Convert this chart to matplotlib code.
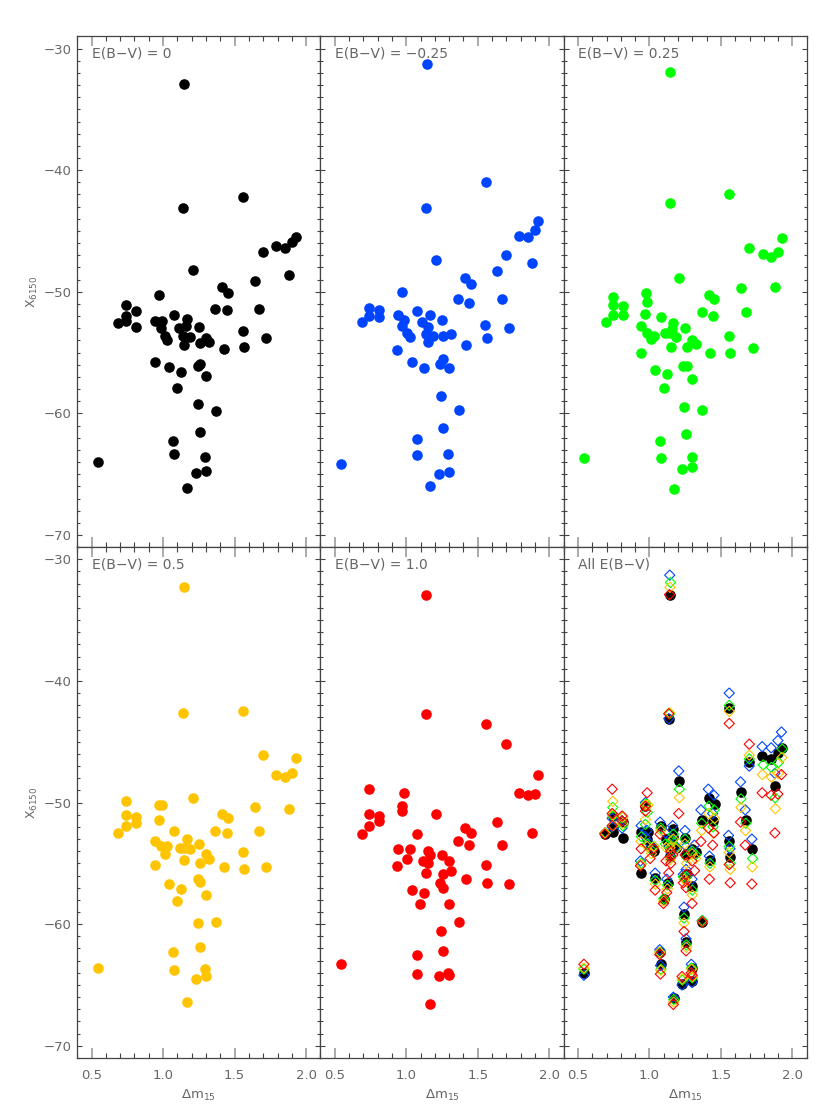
import matplotlib
matplotlib.use("Agg")
import matplotlib.pyplot as plt
from matplotlib.ticker import MultipleLocator

# E(B-V) = 0
dm15_0 = [1.146, 1.14, 1.558, 1.209, 1.926, 1.898, 1.853, 1.79, 1.698, 1.881,
          1.642, 1.414, 1.456, 0.972, 0.744, 0.812, 0.744, 0.744, 0.688, 0.812,
          1.365, 1.447, 1.672, 1.079, 0.94, 0.99, 0.984, 1.167, 1.163, 1.114,
          1.249, 1.558, 1.014, 1.03, 1.137, 1.186, 1.144, 1.258, 1.298, 1.323,
          1.423, 1.565, 1.719, 0.942, 1.042, 1.128, 1.242, 1.26, 1.3, 1.1,
          1.242, 1.37, 1.258, 1.072, 1.079, 1.295, 1.23, 1.298, 1.17, 0.542]
x6150_0 = [-32.9, -43.1, -42.2, -48.2, -45.5, -45.9, -46.4, -46.2, -46.7, -48.6,
           -49.1, -49.6, -50.1, -50.3, -51.1, -51.6, -52.0, -52.4, -52.6, -52.9,
           -51.4, -51.5, -51.4, -51.9, -52.4, -52.4, -53.0, -52.2, -52.8, -53.0,
           -52.9, -53.2, -53.6, -54.0, -53.6, -53.7, -54.4, -54.2, -53.8, -54.1,
           -54.7, -54.5, -53.8, -55.8, -56.2, -56.6, -56.1, -55.9, -56.9, -57.9,
           -59.2, -59.8, -61.5, -62.3, -63.3, -63.6, -64.9, -64.7, -66.1, -64.0]

# E(B-V) = -0.25
dm15_m025 = [1.142, 1.558, 1.135, 1.205, 1.923, 1.898, 1.851, 1.788, 1.698, 1.877,
             1.637, 1.412, 1.451, 0.972, 1.36, 1.442, 1.67, 0.74, 0.809, 0.74,
             0.809, 0.688, 0.942, 0.984, 0.97, 1.074, 1.163, 1.112, 1.149, 1.249,
             1.553, 1.716, 1.005, 1.028, 1.135, 1.186, 1.149, 1.256, 1.314, 1.419,
             1.563, 0.937, 1.04, 1.121, 1.256, 1.237, 1.298, 1.242, 1.37, 1.256,
             1.072, 1.077, 1.293, 1.298, 1.228, 1.167, 0.542]
x6150_m025 = [-31.3, -41.0, -43.1, -47.4, -44.2, -44.9, -45.5, -45.4, -47.0, -47.6,
              -48.3, -48.9, -49.4, -50.0, -50.6, -50.9, -50.6, -51.3, -51.5, -52.0,
              -52.1, -52.5, -51.9, -52.3, -52.8, -51.6, -51.9, -52.5, -52.9, -52.3,
              -52.7, -53.0, -53.4, -53.7, -53.5, -53.6, -54.1, -53.6, -53.5, -54.4,
              -53.8, -54.8, -55.8, -56.3, -55.5, -55.9, -56.3, -58.6, -59.7, -61.2,
              -62.1, -63.4, -63.3, -64.8, -65.0, -66.0, -64.2]

# E(B-V) = 0.25
dm15_025 = [1.147, 1.558, 1.142, 1.209, 1.928, 1.902, 1.853, 1.795, 1.698, 1.879,
            1.64, 1.416, 1.453, 0.974, 0.986, 0.744, 0.744, 0.814, 0.744, 0.814,
            0.693, 0.972, 1.079, 1.365, 1.444, 1.674, 0.944, 0.984, 1.033, 1.014,
            1.167, 1.156, 1.112, 1.186, 1.14, 1.249, 1.558, 1.149, 1.26, 1.3,
            1.323, 1.423, 1.565, 1.721, 0.942, 1.04, 1.126, 1.1, 1.237, 1.26,
            1.3, 1.242, 1.37, 1.258, 1.074, 1.081, 1.295, 1.3, 1.23, 1.17, 0.542]
x6150_025 = [-31.9, -42.0, -42.7, -48.9, -45.6, -46.7, -47.1, -46.9, -46.4, -49.6,
             -49.7, -50.3, -50.6, -50.1, -50.8, -50.4, -51.1, -51.2, -51.9, -51.9,
             -52.5, -51.8, -52.1, -51.7, -52.0, -51.7, -52.8, -53.4, -53.6, -53.9,
             -52.6, -53.1, -53.4, -53.7, -53.4, -53.0, -53.6, -54.5, -54.5, -54.0,
             -54.3, -55.0, -55.0, -54.6, -55.0, -56.4, -56.8, -57.9, -56.1, -56.1,
             -57.2, -59.5, -59.7, -61.7, -62.3, -63.7, -63.6, -64.4, -64.6, -66.2, -63.7]

# E(B-V) = 0.5
dm15_05 = [1.144, 1.14, 1.558, 1.209, 1.698, 1.926, 1.902, 1.853, 1.79, 1.881,
           1.64, 1.414, 1.456, 0.744, 0.744, 0.812, 0.744, 0.814, 0.688, 0.972,
           0.99, 0.972, 1.079, 1.365, 1.447, 1.672, 0.942, 0.984, 1.03, 1.014,
           1.167, 1.116, 1.186, 1.144, 1.144, 1.249, 1.298, 1.323, 1.258, 1.558,
           1.423, 1.565, 1.719, 0.942, 1.042, 1.126, 1.242, 1.258, 1.3, 1.1,
           1.242, 1.37, 1.258, 1.072, 1.079, 1.295, 1.3, 1.23, 1.17, 0.542]
x6150_05 = [-32.3, -42.6, -42.5, -49.6, -46.1, -46.3, -47.6, -47.9, -47.7, -50.5,
            -50.4, -50.9, -51.3, -49.9, -51.0, -51.2, -51.9, -51.7, -52.5, -50.2,
            -50.2, -51.4, -52.3, -52.3, -52.5, -52.3, -53.2, -53.6, -53.6, -54.2,
            -53.0, -53.7, -53.8, -53.7, -54.7, -53.4, -54.2, -54.6, -55.0, -54.1,
            -55.3, -55.5, -55.3, -55.1, -56.7, -57.1, -56.3, -56.5, -57.6, -58.1,
            -59.9, -59.8, -61.9, -62.3, -63.8, -63.7, -64.3, -64.5, -66.4, -63.6]

# E(B-V) = 1.0
dm15_10 = [1.14, 1.135, 1.558, 1.698, 1.923, 1.898, 1.851, 1.788, 1.877, 1.637,
           1.412, 1.451, 0.74, 0.74, 0.809, 0.809, 0.74, 0.688, 0.984, 0.972,
           0.972, 1.205, 1.074, 1.36, 1.442, 1.67, 0.942, 1.028, 1.005, 1.149,
           1.163, 1.116, 1.149, 1.135, 1.249, 1.298, 1.316, 1.256, 1.419, 1.558,
           1.565, 1.716, 0.937, 1.04, 1.121, 1.098, 1.237, 1.256, 1.298, 1.37,
           1.242, 1.256, 1.072, 1.077, 1.293, 1.298, 1.228, 1.167, 0.542]
x6150_10 = [-32.9, -42.7, -43.5, -45.2, -47.7, -49.3, -49.4, -49.2, -52.5, -51.6,
            -52.1, -52.5, -48.9, -50.9, -51.1, -51.5, -51.9, -52.6, -49.2, -50.3,
            -50.7, -50.9, -52.6, -53.2, -53.5, -53.5, -53.8, -53.8, -54.6, -54.0,
            -54.3, -54.8, -55.0, -55.8, -54.3, -54.8, -55.6, -55.9, -56.3, -55.1,
            -56.6, -56.7, -55.2, -57.2, -57.4, -58.3, -56.6, -57.0, -58.3, -59.8,
            -60.6, -62.2, -62.5, -64.1, -64.0, -64.2, -64.3, -66.6, -63.3]

labels = ["E(B\u2212V) = 0", "E(B\u2212V) = \u22120.25", "E(B\u2212V) = 0.25",
          "E(B\u2212V) = 0.5", "E(B\u2212V) = 1.0", "All E(B\u2212V)"]
colors = ["black", "#0044ff", "#00ff00", "#ffc400", "#ff0000"]
xs = [dm15_0, dm15_m025, dm15_025, dm15_05, dm15_10]
ys = [x6150_0, x6150_m025, x6150_025, x6150_05, x6150_10]

gray = "#666666"

fig, axes = plt.subplots(2, 3, figsize=(8.3, 11.2), dpi=100)
fig.subplots_adjust(left=0.0931, right=0.972, top=0.9675, bottom=0.0554,
                    wspace=0, hspace=0)
axes = axes.ravel()

for i, ax in enumerate(axes):
    if i < 5:
        ax.scatter(xs[i], ys[i], s=58, color=colors[i], linewidths=0, zorder=3)
    else:
        ax.scatter(dm15_0, x6150_0, s=58, color="black", linewidths=0, zorder=3)
        for j in range(1, 5):
            ax.scatter(xs[j], ys[j], s=27, marker="D", facecolors="none",
                       edgecolors=colors[j], linewidths=0.8, zorder=4)

    ax.set_xlim(0.4, 2.1)
    ax.set_ylim(-71, -29)
    ax.xaxis.set_major_locator(MultipleLocator(0.5))
    ax.xaxis.set_minor_locator(MultipleLocator(0.1))
    ax.yaxis.set_major_locator(MultipleLocator(10))
    ax.yaxis.set_minor_locator(MultipleLocator(1))
    ax.tick_params(axis="x", which="major", direction="in", top=True, bottom=True,
                   length=7, width=1.4, color="#aaaaaa", labelsize=9.5,
                   labelcolor=gray, pad=8)
    ax.tick_params(axis="x", which="minor", direction="in", top=True, bottom=True,
                   length=3.5, width=0.8, color="#444444")
    ax.tick_params(axis="y", which="major", direction="in", left=True, right=True,
                   length=3.5, width=0.8, color="#444444", labelsize=9.5,
                   labelcolor=gray, pad=4)
    ax.tick_params(axis="y", which="minor", direction="in", left=True, right=True,
                   length=2, width=0.8, color="#444444")
    ax.xaxis.set_major_formatter(plt.FuncFormatter(lambda v, p: "%.1f" % v))
    for sp in ax.spines.values():
        sp.set_color("#444444")
        sp.set_linewidth(0.9)

    if i % 3 != 0:
        ax.tick_params(axis="y", labelleft=False)
    else:
        ax.set_ylabel("X$_{6150}$", color=gray, fontsize=9, labelpad=3)
    if i < 3:
        ax.tick_params(axis="x", labelbottom=False)
    else:
        ax.set_xlabel("\u0394m$_{15}$", color=gray, fontsize=9.5, labelpad=4)

    ax.text(0.06, 0.967, labels[i], transform=ax.transAxes, ha="left",
            va="center", color=gray, fontsize=10)

fig.savefig("out.png", dpi=100)
